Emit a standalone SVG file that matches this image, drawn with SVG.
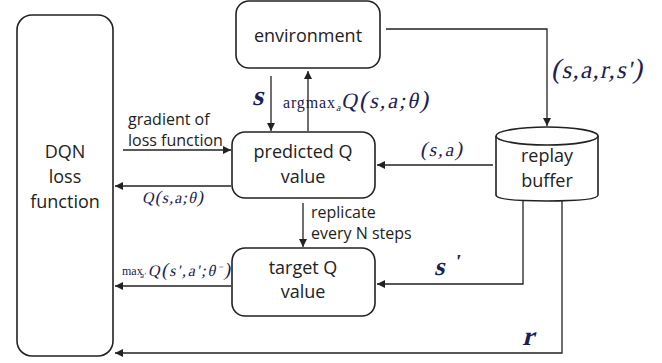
<svg xmlns="http://www.w3.org/2000/svg" width="662" height="363" viewBox="0 0 662 363">
  <defs>
    <marker id="arrow" viewBox="0 0 10 10" refX="10" refY="5" markerWidth="8" markerHeight="8" markerUnits="userSpaceOnUse" orient="auto">
      <path d="M0,0 L10,5 L0,10 z" fill="#222"/>
    </marker>
    <style>
      .box { fill: #fff; stroke: #222; stroke-width: 1.6; }
      .lbl { font-family: "Open Sans", "Noto Sans", sans-serif; fill: #222; }
      .node { font-size: 18px; text-anchor: middle; }
      .small { font-size: 16px; }
      /* math labels: upright serif, slanted by transform */
      .math { font-family: "Liberation Serif", "Times New Roman", serif; font-style: normal; fill: #1b2150; }
      .bold { font-weight: bold; }
      .wire { fill: none; stroke: #222; stroke-width: 1.3; }
    </style>
  </defs>

  <rect width="662" height="363" fill="#fff"/>

  <!-- nodes -->
  <g id="dqn-loss">
    <rect class="box" x="17" y="15" width="96" height="341" rx="15"/>
    <text class="lbl node" font-size="19" x="65" y="158">DQN</text>
    <text class="lbl node" font-size="19" x="65" y="183">loss</text>
    <text class="lbl node" font-size="19" x="65" y="208">function</text>
  </g>

  <g id="environment">
    <rect class="box" x="236" y="1" width="144" height="67" rx="13"/>
    <text class="lbl node" x="308" y="42">environment</text>
  </g>

  <g id="predicted-q">
    <rect class="box" x="232" y="132" width="143" height="66" rx="13"/>
    <text class="lbl node" x="303" y="158">predicted Q</text>
    <text class="lbl node" x="303" y="183">value</text>
  </g>

  <g id="target-q">
    <rect class="box" x="232" y="248" width="143" height="68" rx="13"/>
    <text class="lbl node" x="303" y="274">target Q</text>
    <text class="lbl node" x="303" y="298">value</text>
  </g>

  <g id="replay-buffer">
    <path class="box" d="M496,136 L496,195 Q496,201 547,201 Q598,201 598,195 L598,136"/>
    <ellipse class="box" cx="547" cy="136" rx="51" ry="9"/>
    <text class="lbl node" x="547" y="162">replay</text>
    <text class="lbl node" x="547" y="187">buffer</text>
  </g>

  <!-- connectors -->
  <g id="connectors">
    <polyline class="wire" points="386,29 547,29 547,126" marker-end="url(#arrow)"/>
    <line class="wire" x1="271" y1="76" x2="271" y2="131" marker-end="url(#arrow)"/>
    <line class="wire" x1="308" y1="131" x2="308" y2="71" marker-end="url(#arrow)"/>
    <line class="wire" x1="123" y1="150" x2="231" y2="150" marker-end="url(#arrow)"/>
    <line class="wire" x1="231" y1="186" x2="115" y2="186" marker-end="url(#arrow)"/>
    <line class="wire" x1="493" y1="165" x2="377" y2="165" marker-end="url(#arrow)"/>
    <line class="wire" x1="303" y1="203" x2="303" y2="247" marker-end="url(#arrow)"/>
    <polyline class="wire" points="523,201 523,284 377,284" marker-end="url(#arrow)"/>
    <line class="wire" x1="231" y1="286" x2="115" y2="286" marker-end="url(#arrow)"/>
    <polyline class="wire" points="562,201 562,353 115,353" marker-end="url(#arrow)"/>
  </g>

  <!-- connector labels -->
  <g id="labels">
    <text class="lbl small" x="128" y="125">gradient of</text>
    <text class="lbl small" x="128" y="146">loss function</text>
    <text class="lbl small" x="311" y="218">replicate</text>
    <text class="lbl small" x="311" y="239">every N steps</text>

    <!-- state fed to the network -->
    <text class="math bold" font-size="28" transform="translate(252,105) skewX(-14)">s</text>

    <!-- greedy action -->
    <text class="math" font-size="16" x="283" y="108" textLength="52" lengthAdjust="spacing">argmax</text>
    <text class="math" font-size="10" transform="translate(336,111) skewX(-14)">a</text>
    <text class="math" font-size="22" transform="translate(341,108) skewX(-12)" textLength="87" lengthAdjust="spacing">Q<tspan font-size="25">(</tspan>s,a;θ<tspan font-size="25">)</tspan></text>

    <!-- stored transition -->
    <text class="math" font-size="25" transform="translate(551,78) skewX(-12)" textLength="91" lengthAdjust="spacing"><tspan font-size="28">(</tspan>s,a,r,s'<tspan font-size="28">)</tspan></text>

    <!-- sampled state-action pair -->
    <text class="math" font-size="19" transform="translate(420,156) skewX(-12)" textLength="42" lengthAdjust="spacing"><tspan font-size="21">(</tspan>s,a<tspan font-size="21">)</tspan></text>

    <!-- predicted value -->
    <text class="math" font-size="16" transform="translate(142,203) skewX(-12)" textLength="61" lengthAdjust="spacing">Q<tspan font-size="18">(</tspan>s,a;θ<tspan font-size="18">)</tspan></text>

    <!-- target value -->
    <text class="math" font-size="12" x="122" y="275">max</text>
    <text class="math" font-size="8" transform="translate(140,278) skewX(-14)">a'</text>
    <text class="math" font-size="16" transform="translate(148,276) skewX(-12)" textLength="82" lengthAdjust="spacing">Q<tspan font-size="19">(</tspan>s',a';θ<tspan font-size="9" dy="-6">−</tspan><tspan font-size="19" dy="6">)</tspan></text>

    <!-- next state and reward -->
    <text class="math bold" font-size="26" transform="translate(434,275) skewX(-14)">s</text>
    <text class="math bold" font-size="20" transform="translate(454,268) skewX(-10)">'</text>
    <text class="math bold" font-size="27" transform="translate(522,345) skewX(-14)">r</text>
  </g>
</svg>
